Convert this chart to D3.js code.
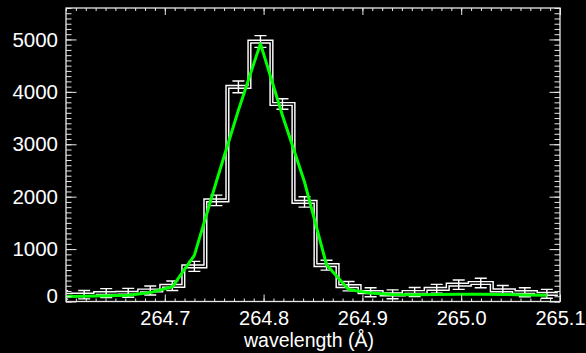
<!DOCTYPE html>
<html>
<head>
<meta charset="utf-8">
<script src="https://cdn.jsdelivr.net/npm/d3@7"></script>
<style>
  html, body { margin: 0; padding: 0; background: #000; }
  svg { display: block; }
</style>
</head>
<body>
<svg id="chart" width="586" height="353"></svg>
<script>
// ---- data ----
const wavelengths = [264.5961, 264.6184, 264.6407, 264.6630, 264.6853, 264.7076, 264.7299,
  264.7522, 264.7745, 264.7968, 264.8191, 264.8414, 264.8637, 264.8860, 264.9083, 264.9306,
  264.9529, 264.9752, 264.9975, 265.0198, 265.0421, 265.0644, 265.0867];
const counts = [125, 130, 160, 165, 210, 300, 670, 1930, 4096, 4960, 3768, 1900, 693, 292,
  177, 137, 181, 242, 321, 353, 214, 177, 147];
const errors = [80, 80, 85, 85, 85, 90, 95, 100, 112, 112, 100, 100, 95, 90, 85, 85, 85, 85,
  90, 90, 90, 85, 85];
const fitValues = [95, 100, 110, 120, 170, 280, 880, 2290, 3650, 4920, 3550, 2280, 700, 230,
  160, 135, 130, 135, 140, 140, 135, 125, 120];
const xTickValues = [264.7, 264.8, 264.9, 265.0, 265.1];
const xTickLabels = ["264.7", "264.8", "264.9", "265.0", "265.1"];
const yTickValues = [0, 1000, 2000, 3000, 4000, 5000];
const xDomain = [264.6, 265.1];
const yDomain = [0, 5600];
const xTitle = "wavelength (\u00C5)";

// ---- layout ----
const W = 586, H = 353;
const L = 66, R = 560, T = 8, B = 301.5;
const svg = d3.select("#chart");
svg.append("rect").attr("width", W).attr("height", H).attr("fill", "#000");

const x = d3.scaleLinear().domain(xDomain).range([L, R]);
const y = d3.scaleLinear().domain(yDomain).range([B, T]);

const FONT = "'Liberation Sans', Arial, sans-serif";
const AX = "#e8e8e8";

svg.append("clipPath").attr("id", "clip")
  .append("rect").attr("x", L).attr("y", T).attr("width", R - L).attr("height", B - T);

const plot = svg.append("g").attr("clip-path", "url(#clip)");

// histogram path (IDL psym=10 style)
const n = wavelengths.length;
let p = "";
for (let i = 0; i < n; i++) {
  const w = wavelengths[i];
  const left = i === 0 ? w - (wavelengths[1] - wavelengths[0]) / 2 : (wavelengths[i - 1] + w) / 2;
  const right = i === n - 1 ? w + (w - wavelengths[n - 2]) / 2 : (w + wavelengths[i + 1]) / 2;
  p += (i === 0 ? "M" : "L") + x(left) + "," + y(counts[i]) + "L" + x(right) + "," + y(counts[i]);
}
plot.append("path").attr("d", p).attr("fill", "none")
  .attr("stroke", "#fff").attr("stroke-width", 4.2).attr("stroke-linejoin", "miter");
plot.append("path").attr("d", p).attr("fill", "none")
  .attr("stroke", "#000").attr("stroke-width", 1.3).attr("stroke-linejoin", "miter");

// error bars
const cap = 6;
const eb = plot.append("g").attr("stroke", "#fff").attr("stroke-width", 1.4);
wavelengths.forEach((w, i) => {
  const cx = x(w), y1 = y(counts[i] + errors[i]), y0 = y(counts[i] - errors[i]);
  eb.append("line").attr("x1", cx).attr("x2", cx).attr("y1", y1).attr("y2", y0);
  eb.append("line").attr("x1", cx - cap).attr("x2", cx + cap).attr("y1", y1).attr("y2", y1);
  eb.append("line").attr("x1", cx - cap).attr("x2", cx + cap).attr("y1", y0).attr("y2", y0);
});

// fit line
const line = d3.line().x((d, i) => x(wavelengths[i])).y(d => y(d));
plot.append("path").datum(fitValues).attr("d", line).attr("fill", "none")
  .attr("stroke", "#00ff00").attr("stroke-width", 3).attr("stroke-linejoin", "round");

// ---- axes ----
const xMinor = d3.range(264.6, 265.1001, 0.01);
const yMinor = d3.range(0, 5601, 100);

function styleAxis(g) {
  g.selectAll("line").attr("stroke", AX).attr("stroke-width", 1);
  g.select(".domain").remove();
}

// bottom
svg.append("g").attr("transform", `translate(0,${B})`)
  .call(d3.axisBottom(x).tickValues(xMinor).tickFormat("").tickSize(-3))
  .call(styleAxis);
const bx = svg.append("g").attr("transform", `translate(0,${B})`)
  .call(d3.axisBottom(x).tickValues(xTickValues).tickFormat((d, i) => xTickLabels[i]).tickSize(-7).tickPadding(9.5))
  .call(styleAxis);
bx.selectAll("text").attr("fill", "#fff").attr("font-family", FONT).attr("font-size", 20);

// top
svg.append("g").attr("transform", `translate(0,${T})`)
  .call(d3.axisTop(x).tickValues(xMinor).tickFormat("").tickSize(-3)).call(styleAxis);
svg.append("g").attr("transform", `translate(0,${T})`)
  .call(d3.axisTop(x).tickValues(xTickValues).tickFormat("").tickSize(-7)).call(styleAxis);

// left
svg.append("g").attr("transform", `translate(${L},0)`)
  .call(d3.axisLeft(y).tickValues(yMinor).tickFormat("").tickSize(-5.5)).call(styleAxis);
const ly = svg.append("g").attr("transform", `translate(${L},0)`)
  .call(d3.axisLeft(y).tickValues(yTickValues).tickFormat(d3.format("d")).tickSize(-10.5).tickPadding(8))
  .call(styleAxis);
ly.selectAll("text").attr("fill", "#fff").attr("font-family", FONT).attr("font-size", 20.5)
  .attr("dy", d => d === 0 ? "0.06em" : "0.32em");

// right
svg.append("g").attr("transform", `translate(${R},0)`)
  .call(d3.axisRight(y).tickValues(yMinor).tickFormat("").tickSize(-5.5)).call(styleAxis);
svg.append("g").attr("transform", `translate(${R},0)`)
  .call(d3.axisRight(y).tickValues(yTickValues).tickFormat("").tickSize(-10.5)).call(styleAxis);

// box
svg.append("rect").attr("x", L).attr("y", T).attr("width", R - L).attr("height", B - T)
  .attr("fill", "none").attr("stroke", AX).attr("stroke-width", 1.3);

// title
svg.append("text").attr("x", 309).attr("y", 346.5)
  .attr("text-anchor", "middle").attr("fill", "#fff")
  .attr("font-family", FONT).attr("font-size", 19.5).text(xTitle);
</script>
</body>
</html>
